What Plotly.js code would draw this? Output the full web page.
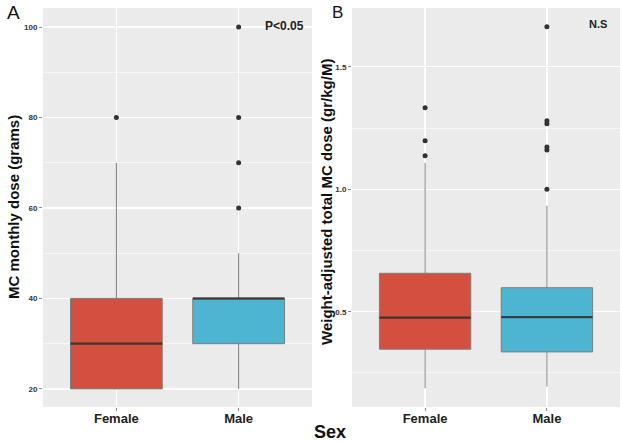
<!DOCTYPE html>
<html>
<head>
<meta charset="utf-8">
<script src="https://cdn.plot.ly/plotly-3.0.1.min.js"></script>
<style>html,body{margin:0;padding:0;background:#fff;}#chart{width:622px;height:441px;}</style>
</head>
<body>
<div id="chart"></div>
<script>
// ---- Data ----
const categories = ['Female', 'Male'];
const colors = ['#D35040', '#4DB5D2'];

// Panel A: MC monthly dose (grams)
const aQ1 = [20, 30];
const aMedian = [30, 40];
const aQ3 = [40, 40];
const aLower = [20, 20];
const aUpper = [70, 50];
const aOutFemale = [80];
const aOutMale = [60, 70, 80, 100];
const aTicks = [20, 40, 60, 80, 100];
const aMinorTicks = [30, 50, 70, 90];

// Panel B: Weight-adjusted total MC dose (gr/kg/M)
const bQ1 = [0.347, 0.336];
const bMedian = [0.476, 0.478];
const bQ3 = [0.657, 0.598];
const bLower = [0.187, 0.194];
const bUpper = [1.108, 0.933];
const bOutFemale = [1.137, 1.198, 1.333];
const bOutMale = [1.0, 1.16, 1.173, 1.267, 1.28, 1.663];
const bTicks = [0.5, 1.0, 1.5];
const bTickText = ['0.5', '1.0', '1.5'];
const bMinorTicks = [0.25, 0.75, 1.25];

// ---- Build ----
const FONT = 'Arial, "Liberation Sans", sans-serif';
const W = 622, H = 441;
const BOXW = 0.75;

function boxTraces(q1, med, q3, lo, up, xa, ya) {
  return categories.map((c, i) => ({
    type: 'box', x: [c], q1: [q1[i]], median: [med[i]], q3: [q3[i]],
    lowerfence: [lo[i]], upperfence: [up[i]],
    fillcolor: colors[i], line: {color: '#7d7d7d', width: 1},
    whiskerwidth: 0, width: BOXW, boxpoints: false,
    xaxis: xa, yaxis: ya, showlegend: false, hoverinfo: 'skip'
  }));
}
function outTrace(vals, cat, xa, ya) {
  return {
    type: 'scatter', mode: 'markers', x: vals.map(() => cat), y: vals,
    marker: {color: '#333333', size: 5}, xaxis: xa, yaxis: ya,
    showlegend: false, hoverinfo: 'skip'
  };
}

const data = [
  ...boxTraces(aQ1, aMedian, aQ3, aLower, aUpper, 'x', 'y'),
  ...boxTraces(bQ1, bMedian, bQ3, bLower, bUpper, 'x2', 'y2'),
  outTrace(aOutFemale, 'Female', 'x', 'y'),
  outTrace(aOutMale, 'Male', 'x', 'y'),
  outTrace(bOutFemale, 'Female', 'x2', 'y2'),
  outTrace(bOutMale, 'Male', 'x2', 'y2')
];

// median lines (thicker, darker), positioned from the data arrays
const shapes = [];
[[aMedian, 'x', 'y'], [bMedian, 'x2', 'y2']].forEach(([m, xr, yr]) => {
  m.forEach((v, i) => shapes.push({
    type: 'line', xref: xr, yref: yr, x0: i - BOXW / 2, x1: i + BOXW / 2, y0: v, y1: v,
    line: {color: 'rgba(25,25,25,0.7)', width: 2.2}, layer: 'above'
  }));
});

const xBase = {
  type: 'category', categoryarray: categories, range: [-0.6, 1.6],
  showgrid: true, gridcolor: '#ffffff', gridwidth: 1.2, zeroline: false, showline: false,
  ticks: 'outside', ticklen: 3, tickcolor: '#8a8a8a', tickwidth: 1,
  ticklabelstandoff: -4,
  tickfont: {family: FONT, size: 13, color: '#222222', weight: 'bold'}
};
const yBase = {
  showgrid: true, gridcolor: '#ffffff', gridwidth: 1.3, zeroline: false, showline: false,
  ticks: 'outside', ticklen: 3, tickcolor: '#8a8a8a', tickwidth: 1,
  tickfont: {family: FONT, size: 8, color: '#333333', weight: 'bold'},
  tickmode: 'array'
};
const yDom = [(H - 407) / H, (H - 8) / H];

const layout = {
  width: W, height: H,
  margin: {l: 0, r: 0, t: 0, b: 0},
  paper_bgcolor: '#ffffff', plot_bgcolor: '#EBEBEB',
  boxmode: 'overlay',
  xaxis: Object.assign({}, xBase, {domain: [43 / W, 312 / W], anchor: 'y'}),
  xaxis2: Object.assign({}, xBase, {domain: [352 / W, 620 / W], anchor: 'y2'}),
  yaxis: Object.assign({}, yBase, {domain: yDom, anchor: 'x', range: [16, 104.2], tickvals: aTicks,
    minor: {tickmode: 'array', tickvals: aMinorTicks, showgrid: true, gridcolor: '#ffffff', gridwidth: 0.6, ticks: ''}}),
  yaxis2: Object.assign({}, yBase, {domain: yDom, anchor: 'x2', range: [0.111, 1.74], tickvals: bTicks, ticktext: bTickText,
    minor: {tickmode: 'array', tickvals: bMinorTicks, showgrid: true, gridcolor: '#ffffff', gridwidth: 0.6, ticks: ''}}),
  shapes: shapes,
  annotations: [
    {text: 'A', x: 13 / W, y: (H - 13) / H, font: {family: FONT, size: 19, color: '#111'}},
    {text: 'B', x: 337.5 / W, y: (H - 12) / H, font: {family: FONT, size: 17, color: '#111'}},
    {text: 'P<0.05', x: 284.5 / W, y: (H - 26) / H, font: {family: FONT, size: 12, color: '#222', weight: 'bold'}},
    {text: 'N.S', x: 598 / W, y: (H - 24) / H, font: {family: FONT, size: 11, color: '#222', weight: 'bold'}},
    {text: 'Sex', x: 330 / W, y: (H - 432) / H, font: {family: FONT, size: 18, color: '#111', weight: 'bold'}},
    {text: 'MC monthly dose (grams)', x: 14 / W, y: (H - 207) / H, textangle: -90,
      font: {family: FONT, size: 15, color: '#111', weight: 'bold'}},
    {text: 'Weight-adjusted total MC dose (gr/kg/M)', x: 326 / W, y: (H - 202) / H, textangle: -90,
      font: {family: FONT, size: 15, color: '#111', weight: 'bold'}}
  ].map(a => Object.assign({xref: 'paper', yref: 'paper', showarrow: false, xanchor: 'center', yanchor: 'middle'}, a))
};

Plotly.newPlot('chart', data, layout, {displayModeBar: false, staticPlot: true});
</script>
</body>
</html>
